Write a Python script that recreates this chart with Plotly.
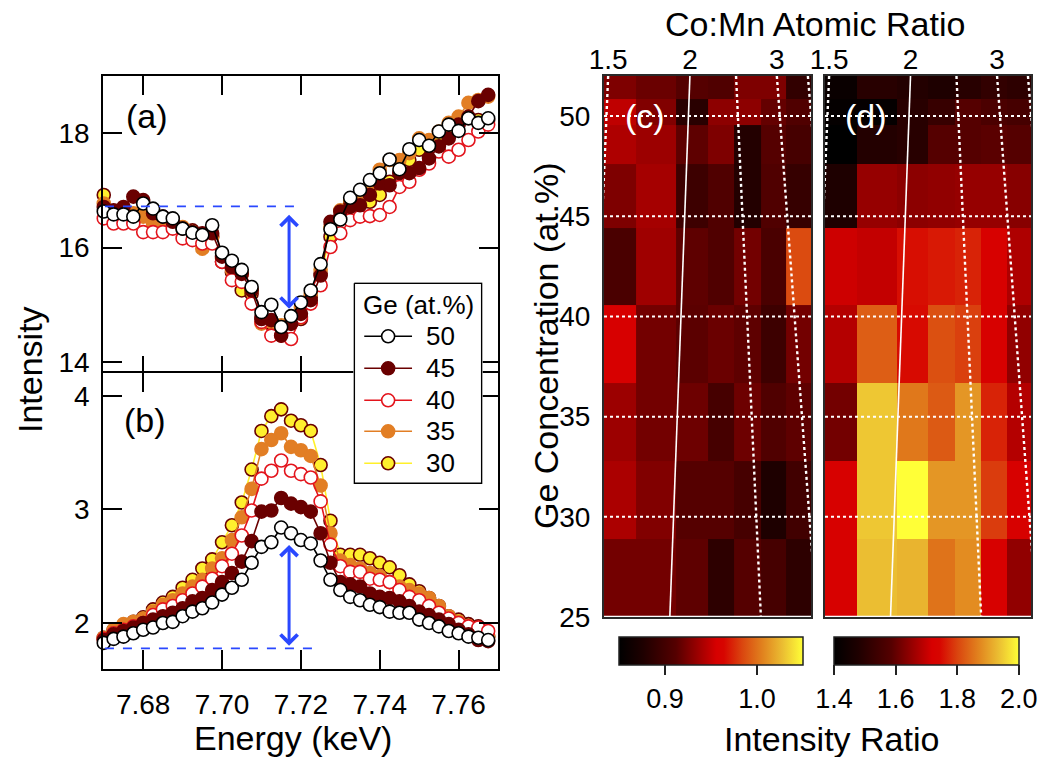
import plotly.graph_objects as go

FONT = "Liberation Sans, Arial, sans-serif"

# ---------------- spectra: panels (a) and (b) ----------------
energy_kev = [7.6700, 7.6725, 7.6750, 7.6775, 7.6800, 7.6825, 7.6850, 7.6875,
              7.6900, 7.6925, 7.6950, 7.6975, 7.7000, 7.7025, 7.7050, 7.7075,
              7.7100, 7.7125, 7.7150, 7.7175, 7.7200, 7.7225, 7.7250, 7.7275,
              7.7300, 7.7325, 7.7350, 7.7375, 7.7400, 7.7425, 7.7450, 7.7475,
              7.7500, 7.7525, 7.7550, 7.7575, 7.7600, 7.7625, 7.7650, 7.7675]

ge_labels = ["30", "35", "40", "45", "50"]

# panel (a) intensities
abs_30 = [16.92, 16.60, 16.63, 16.54, 16.65, 16.54, 16.48, 16.36, 16.30, 16.30,
          16.19, 16.19, 15.75, 15.57, 15.25, 15.19, 14.78, 14.67, 14.61, 14.67,
          14.75, 15.13, 15.54, 16.19, 16.54, 16.77, 16.89, 16.80, 16.92, 17.15,
          17.30, 17.53, 17.71, 17.80, 17.94, 18.09, 18.18, 18.26, 18.23, 18.23]
abs_35 = [16.77, 16.63, 16.60, 16.60, 16.54, 16.42, 16.45, 16.39, 16.36, 16.27,
          15.98, 16.19, 15.81, 15.61, 15.54, 15.25, 14.67, 14.70, 14.64, 14.75,
          14.96, 15.19, 15.61, 16.36, 16.65, 16.83, 16.86, 17.06, 17.36, 17.53,
          17.53, 17.65, 17.91, 17.88, 18.03, 18.18, 18.29, 18.53, 18.58, 18.64]
abs_40 = [16.51, 16.42, 16.42, 16.42, 16.27, 16.27, 16.27, 16.33, 16.16, 16.13,
          16.07, 16.07, 15.75, 15.43, 15.40, 15.02, 14.70, 14.46, 14.46, 14.40,
          14.78, 15.02, 15.34, 16.01, 16.25, 16.48, 16.54, 16.55, 16.57, 16.71,
          17.06, 17.15, 17.36, 17.47, 17.68, 17.59, 17.71, 17.88, 18.03, 18.15]
abs_45 = [16.71, 16.65, 16.71, 16.89, 16.83, 16.60, 16.54, 16.45, 16.33, 16.27,
          16.25, 16.25, 15.84, 15.66, 15.54, 15.25, 14.75, 14.73, 14.46, 14.67,
          14.84, 15.08, 15.51, 16.45, 16.63, 16.71, 16.74, 16.92, 17.12, 17.09,
          17.31, 17.30, 17.39, 17.56, 17.77, 17.91, 18.15, 18.29, 18.56, 18.67]
abs_50 = [16.63, 16.58, 16.58, 16.54, 16.77, 16.68, 16.54, 16.51, 16.33, 16.26,
          16.22, 16.39, 15.91, 15.77, 15.61, 15.31, 14.87, 15.00, 14.61, 14.80,
          15.04, 15.25, 15.71, 16.32, 16.49, 16.87, 17.01, 17.18, 17.30, 17.54,
          17.37, 17.72, 17.88, 17.78, 18.03, 18.15, 18.04, 18.26, 18.18, 18.26]

# panel (b) intensities
emi_30 = [1.87, 1.94, 1.97, 2.01, 2.05, 2.12, 2.18, 2.23, 2.31, 2.38,
          2.48, 2.56, 2.71, 2.86, 3.06, 3.35, 3.69, 3.82, 3.88, 3.78,
          3.74, 3.69, 3.39, 2.90, 2.60, 2.60, 2.60, 2.57, 2.53, 2.49,
          2.42, 2.34, 2.28, 2.22, 2.15, 2.06, 2.03, 1.99, 1.97, 1.88]
emi_35 = [1.87, 1.94, 1.99, 2.01, 2.04, 2.10, 2.16, 2.20, 2.26, 2.32,
          2.38, 2.48, 2.57, 2.73, 2.93, 3.18, 3.53, 3.61, 3.67, 3.55,
          3.52, 3.47, 3.21, 2.79, 2.55, 2.51, 2.48, 2.44, 2.41, 2.36,
          2.32, 2.29, 2.26, 2.22, 2.15, 2.06, 2.01, 1.97, 1.93, 1.88]
emi_40 = [1.86, 1.91, 1.94, 1.97, 2.00, 2.07, 2.12, 2.15, 2.20, 2.26,
          2.32, 2.39, 2.50, 2.61, 2.77, 2.99, 3.27, 3.34, 3.43, 3.34,
          3.31, 3.28, 3.07, 2.69, 2.50, 2.45, 2.45, 2.39, 2.38, 2.36,
          2.29, 2.23, 2.20, 2.15, 2.09, 2.04, 2.00, 1.97, 1.96, 1.93]
emi_45 = [1.85, 1.90, 1.93, 1.96, 2.00, 2.03, 2.06, 2.09, 2.13, 2.19,
          2.22, 2.29, 2.36, 2.44, 2.54, 2.72, 2.98, 2.99, 3.10, 3.05,
          3.02, 2.98, 2.79, 2.53, 2.36, 2.34, 2.32, 2.26, 2.23, 2.22,
          2.19, 2.15, 2.10, 2.07, 2.03, 1.99, 1.94, 1.90, 1.85, 1.84]
emi_50 = [1.825, 1.86, 1.88, 1.91, 1.94, 1.96, 2.00, 2.01, 2.06, 2.10,
          2.13, 2.18, 2.25, 2.31, 2.38, 2.53, 2.67, 2.71, 2.84, 2.79,
          2.73, 2.70, 2.55, 2.38, 2.29, 2.23, 2.20, 2.16, 2.14, 2.10,
          2.09, 2.09, 2.03, 2.00, 1.97, 1.93, 1.91, 1.88, 1.87, 1.85]

# series styling: (line colour, marker fill, marker edge)
series_style = {
    "30": ("#fff02a", "#ffef2e", "#6a0000"),
    "35": ("#e27e24", "#e27e24", "#e27e24"),
    "40": ("#e3141c", "#ffffff", "#e3141c"),
    "45": ("#6a0000", "#6a0000", "#6a0000"),
    "50": ("#000000", "#ffffff", "#000000"),
}
abs_data = {"30": abs_30, "35": abs_35, "40": abs_40, "45": abs_45, "50": abs_50}
emi_data = {"30": emi_30, "35": emi_35, "40": emi_40, "45": emi_45, "50": emi_50}

# blue guide: baseline level and double arrow for each panel
guide_a = dict(x0=7.6703, x1=7.7200, level=16.72, arrow_x=7.7170, top=16.60, bottom=14.93)
guide_b = dict(x0=7.6703, x1=7.7235, level=1.777, arrow_x=7.7170, top=2.70, bottom=1.80)
BLUE = "#2a48ff"

# ---------------- maps: panels (c) and (d) ----------------
pos_edges = [0.0, 0.156, 0.348, 0.502, 0.630, 0.757, 0.881, 1.0]
ge_edges = [25.0, 28.9, 32.8, 36.7, 40.55, 44.4, 47.6, 49.55, 50.85, 52.0]

ratio_c = [
    [0.922, 0.922, 0.915, 0.886, 0.912, 0.902, 0.886],
    [0.941, 0.927, 0.912, 0.912, 0.902, 0.876, 0.899],
    [0.936, 0.922, 0.920, 0.902, 0.920, 0.909, 0.915],
    [0.956, 0.922, 0.914, 0.919, 0.915, 0.896, 0.922],
    [0.905, 0.937, 0.915, 0.909, 0.922, 0.905, 0.986],
    [0.926, 0.939, 0.896, 0.909, 0.879, 0.909, 0.892],
    [0.942, 0.936, 0.915, 0.926, 0.879, 0.912, 0.902],
    [0.948, 0.927, 0.883, 0.931, 0.931, 0.917, 0.909],
    [0.926, 0.919, 0.912, 0.909, 0.926, 0.926, 0.889],
]
ratio_d = [
    [1.724, 1.934, 1.923, 1.852, 1.879, 1.724, 1.647],
    [1.724, 1.944, 2.000, 1.890, 1.890, 1.793, 1.724],
    [1.617, 1.944, 1.857, 1.824, 1.890, 1.770, 1.683],
    [1.683, 1.829, 1.747, 1.813, 1.797, 1.724, 1.647],
    [1.708, 1.698, 1.751, 1.761, 1.770, 1.724, 1.677],
    [1.478, 1.652, 1.642, 1.647, 1.652, 1.652, 1.637],
    [1.400, 1.488, 1.498, 1.586, 1.586, 1.591, 1.586],
    [1.413, 1.413, 1.498, 1.527, 1.586, 1.566, 1.557],
    [1.426, 1.498, 1.488, 1.478, 1.498, 1.517, 1.507],
]

# constant Co:Mn ratio contours: position at the top (Ge=52) and bottom (Ge=25)
co_mn_ratio = [1.5, 2, 2.5, 3, 3.5]
contour_pos_top = [0.020, 0.415, 0.638, 0.835, 0.985]
contour_pos_bottom = [-0.090, 0.318, 0.758, 1.028, 1.200]
contour_ge = [52.0, 25.0]
co_mn_ticks = [1.5, 2, 3]

ge_grid = [30, 35, 40, 45, 50]
ge_ticks = [25, 30, 35, 40, 45, 50]

cbar_c_ticks = [0.9, 1.0]
cbar_d_ticks = [1.4, 1.6, 1.8, 2.0]

hot_scale = [
    [0.00, "rgb(0,0,0)"], [0.13, "rgb(30,0,0)"], [0.31, "rgb(85,0,0)"],
    [0.42, "rgb(150,0,0)"], [0.53, "rgb(215,0,0)"], [0.57, "rgb(215,5,0)"],
    [0.67, "rgb(218,70,15)"], [0.78, "rgb(225,130,30)"], [0.89, "rgb(235,190,50)"],
    [1.00, "rgb(255,255,55)"],
]

fig = go.Figure()

# spectra traces
for lab in ge_labels:
    lc, fc, ec = series_style[lab]
    for data, xa, ya in ((abs_data[lab], "x", "y"), (emi_data[lab], "x2", "y2")):
        fig.add_trace(go.Scatter(
            x=energy_kev, y=data, xaxis=xa, yaxis=ya, mode="lines+markers",
            name=lab, showlegend=False, cliponaxis=False,
            line=dict(color=lc, width=1.6),
            marker=dict(size=13, color=fc, line=dict(color=ec, width=1.6)),
        ))

# blue dashed baselines
for g, xa, ya in ((guide_a, "x", "y"), (guide_b, "x2", "y2")):
    fig.add_trace(go.Scatter(
        x=[g["x0"], g["x1"]], y=[g["level"], g["level"]], xaxis=xa, yaxis=ya,
        mode="lines", line=dict(color=BLUE, width=1.6, dash="dash"),
        showlegend=False, hoverinfo="skip"))
    fig.add_annotation(
        x=g["arrow_x"], y=g["bottom"], ax=g["arrow_x"], ay=g["top"],
        xref=xa, yref=ya, axref=xa, ayref=ya, text="", showarrow=True,
        arrowhead=4, startarrowhead=4, arrowside="end+start",
        arrowsize=1.1, startarrowsize=1.1, arrowwidth=3, arrowcolor=BLUE)

# intensity-ratio maps
fig.add_trace(go.Heatmap(x=pos_edges, y=ge_edges, z=ratio_c, xaxis="x3", yaxis="y3",
                         coloraxis="coloraxis", showlegend=False))
fig.add_trace(go.Heatmap(x=pos_edges, y=ge_edges, z=ratio_d, xaxis="x4", yaxis="y4",
                         coloraxis="coloraxis2", showlegend=False))

for xa, ya in (("x3", "y3"), ("x4", "y4")):
    for g in ge_grid:
        fig.add_trace(go.Scatter(x=[pos_edges[0], pos_edges[-1]], y=[g, g], xaxis=xa, yaxis=ya,
                                 mode="lines", line=dict(color="white", width=2, dash="dot"),
                                 showlegend=False, hoverinfo="skip"))
    fig.add_trace(go.Scatter(x=[pos_edges[0], pos_edges[-1]], y=[ge_edges[0], ge_edges[0]],
                             xaxis=xa, yaxis=ya, mode="lines",
                             line=dict(color="white", width=2.5),
                             showlegend=False, hoverinfo="skip"))
    for r, pt, pb in zip(co_mn_ratio, contour_pos_top, contour_pos_bottom):
        fig.add_trace(go.Scatter(
            x=[pt, pb], y=contour_ge, xaxis=xa, yaxis=ya, mode="lines",
            line=dict(color="white", width=1.6 if r == 2 else 2.4,
                      dash="solid" if r == 2 else "dot"),
            showlegend=False, hoverinfo="skip"))

tick_pos_top = [contour_pos_top[co_mn_ratio.index(r)] for r in co_mn_ticks]

# ---------------- legend box (own small axes, pixel units) ----------------
LEG_W, LEG_H = 128, 200
legend_rows = ["50", "45", "40", "35", "30"]
legend_row_y = [53, 85, 117, 148, 180]
fig.add_trace(go.Scatter(
    x=[0, LEG_W, LEG_W, 0, 0], y=[0, 0, LEG_H, LEG_H, 0], xaxis="x5", yaxis="y5",
    mode="lines", fill="toself", fillcolor="white", line=dict(color="black", width=1.5),
    showlegend=False, hoverinfo="skip"))
for lab, ry in zip(legend_rows, legend_row_y):
    lc, fc, ec = series_style[lab]
    fig.add_trace(go.Scatter(x=[10, 58], y=[ry, ry], xaxis="x5", yaxis="y5", mode="lines",
                             line=dict(color=lc, width=1.6), showlegend=False, hoverinfo="skip"))
    fig.add_trace(go.Scatter(x=[34], y=[ry], xaxis="x5", yaxis="y5", mode="markers",
                             marker=dict(size=13, color=fc, line=dict(color=ec, width=1.6)),
                             showlegend=False, hoverinfo="skip"))
    fig.add_annotation(text=lab, x=70, y=ry, xref="x5", yref="y5", showarrow=False,
                       xanchor="left", yanchor="middle", font=dict(size=26, color="black"))
fig.add_annotation(text="Ge (at.%)", x=LEG_W / 2, y=22, xref="x5", yref="y5", showarrow=False,
                   xanchor="center", yanchor="middle", font=dict(size=26, color="black"))

spec_x = dict(range=[7.6698, 7.7700], tickvals=[7.68, 7.70, 7.72, 7.74, 7.76],
              domain=[0.0992, 0.4798], ticks="inside", ticklen=19, tickwidth=1.5,
              tickcolor="black", showline=True, linecolor="black", linewidth=1.5,
              mirror="ticks", showgrid=False, zeroline=False,
              tickfont=dict(size=28, color="black"))
spec_y = dict(ticks="inside", ticklen=19, tickwidth=1.5, tickcolor="black",
              showline=True, linecolor="black", linewidth=1.5, mirror="ticks",
              showgrid=False, zeroline=False, tickfont=dict(size=28, color="black"),
              ticklabelstandoff=6)

map_x = dict(range=[0, 1], side="top", tickvals=tick_pos_top,
             ticktext=[f"{r:g}" for r in co_mn_ticks], ticks="", showline=True,
             linecolor="#2a2a2a", linewidth=2, mirror=True, showgrid=False,
             zeroline=False, layer="above traces", tickfont=dict(size=28, color="black"),
             ticklabelstandoff=-6)
map_y = dict(range=[25, 52], tickvals=ge_ticks, ticks="", showline=True,
             linecolor="#2a2a2a", linewidth=2, mirror=True, showgrid=False,
             zeroline=False, layer="above traces", tickfont=dict(size=28, color="black"),
             domain=[0.1849, 0.8996])

cbar_common = dict(orientation="h", lenmode="pixels", thicknessmode="pixels",
                   thickness=28, y=0.1585, yanchor="top", xanchor="center",
                   xpad=0, ypad=0, outlinewidth=1.5, outlinecolor="#222",
                   ticks="outside", ticklen=10, tickwidth=2, tickcolor="#222",
                   tickfont=dict(size=27, color="black"))

hidden = dict(visible=False, showgrid=False, zeroline=False, fixedrange=True)

fig.update_layout(
    width=1038, height=757, margin=dict(l=0, r=0, t=0, b=0, autoexpand=False),
    paper_bgcolor="white", plot_bgcolor="white", showlegend=False,
    font=dict(family=FONT, color="black"),
    xaxis=dict(spec_x, anchor="y", showticklabels=False),
    yaxis=dict(spec_y, anchor="x", domain=[0.5053, 0.8996], range=[13.78, 19.0],
               tickvals=[14, 16, 18]),
    xaxis2=dict(spec_x, anchor="y2", tickformat=".2f", ticklabelstandoff=10),
    yaxis2=dict(spec_y, anchor="x2", domain=[0.1162, 0.5073], range=[1.595, 4.20],
                tickvals=[2, 3, 4]),
    xaxis3=dict(map_x, anchor="y3", domain=[0.5819, 0.7813]),
    yaxis3=dict(map_y, anchor="x3", ticklabelstandoff=6),
    xaxis4=dict(map_x, anchor="y4", domain=[0.7948, 0.9933]),
    yaxis4=dict(map_y, anchor="x4", showticklabels=False),
    xaxis5=dict(hidden, anchor="y5", domain=[353.3 / 1038, 482.7 / 1038], range=[-1, LEG_W + 1]),
    yaxis5=dict(hidden, anchor="x5", domain=[(757 - 484.3) / 757, (757 - 282.3) / 757],
                range=[LEG_H + 1, -1]),
    coloraxis=dict(colorscale=hot_scale, cmin=0.85, cmax=1.05,
                   colorbar=dict(cbar_common, x=0.685, len=184,
                                 tickvals=cbar_c_ticks,
                                 ticktext=[f"{t:.1f}" for t in cbar_c_ticks])),
    coloraxis2=dict(colorscale=hot_scale, cmin=1.4, cmax=2.0005,
                    colorbar=dict(cbar_common, x=0.8926, len=185,
                                  tickvals=cbar_d_ticks,
                                  ticktext=[f"{t:.1f}" for t in cbar_d_ticks])),
)

# panel letters
labels = [
    ("(a)", 147, 116, "black"), ("(b)", 145, 420, "black"),
    ("(c)", 645, 116, "white"), ("(d)", 866, 116, "white"),
]
for txt, px, py, col in labels:
    fig.add_annotation(text=txt, x=px / 1038, y=1 - py / 757, xref="paper", yref="paper",
                       showarrow=False, font=dict(size=34, color=col),
                       xanchor="center", yanchor="middle")

titles = [
    ("Intensity", 30, 370, -90), ("Energy (keV)", 293, 738, 0),
    ("Ge Concentration (at.%)", 546, 346, -90), ("Co:Mn Atomic Ratio", 815, 24, 0),
    ("Intensity Ratio", 831, 739, 0),
]
for txt, px, py, ang in titles:
    fig.add_annotation(text=txt, x=px / 1038, y=1 - py / 757, xref="paper", yref="paper",
                       showarrow=False, textangle=ang, font=dict(size=34, color="black"),
                       xanchor="center", yanchor="middle")

fig.write_html("out.html")
